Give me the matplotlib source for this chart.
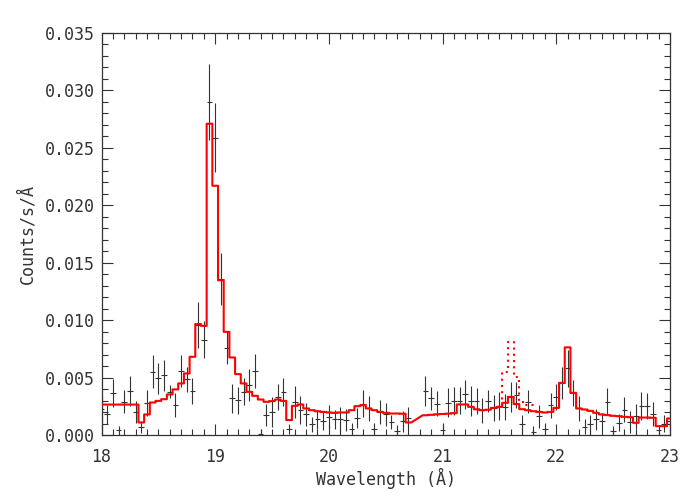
import numpy as np
import matplotlib.pyplot as plt
from matplotlib.ticker import MultipleLocator, FormatStrFormatter

# 0.05 A bins centred on 18.00 ... 23.00
wave = np.round(np.arange(18.0, 23.0001, 0.05), 3)
half_bin = 0.025
nan = np.nan

# observed rate and 1-sigma error, in 1e-3 counts/s/A (nan = chip gap)
rate = [2.3, 1.79, 3.62, 0.42, 2.89, 3.85, 1.99, 0.71, 2.8, 5.5,
        4.92, 5.21, 3.76, 2.6, 5.59, 4.86, 3.82, 9.6, 8.3, 29.0,
        25.9, 13.6, 7.6, 3.18, 3.03, 3.76, 4.34, 5.56, 0.13, 1.72,
        2.02, 3.32, 3.76, 0.5, 2.9, 2.16, 1.79, 0.94, 1.35, 1.23,
        1.58, 1.35, 1.35, 1.29, 0.56, 1.44, 2.74, 2.31, 0.56, 2.01,
        1.8, 1.15, 0.38, 1.2, 1.45, nan, nan, 3.8, 3.2, 2.74,
        0.4, 2.8, 2.95, 3.0, 3.53, 2.97, 2.97, 2.16, 2.95, 2.39,
        2.51, 2.45, 3.32, 3.47, 0.94, 2.89, 0.3, 1.64, 0.56, 2.6,
        3.32, 4.54, 5.8, 3.67, 2.31, 0.71, 0.94, 1.35, 1.2, 2.89,
        0.36, 1.06, 2.22, 1.15, 1.64, 2.51, 2.51, 1.81, 0.42, 1.0,
        1.2]
rate_err = [1.1, 0.8, 1.22, 0.39, 0.99, 1.3, 0.94, 0.51, 1.16, 1.45,
            1.33, 1.35, 0.58, 1.07, 1.39, 1.09, 1.12, 2.0, 1.6, 3.3,
            3.0, 2.25, 1.45, 1.23, 1.19, 1.16, 1.38, 1.45, 0.4, 0.94,
            1.28, 1.16, 1.2, 0.43, 1.38, 1.2, 1.0, 0.65, 0.87, 0.8,
            1.0, 0.87, 1.09, 0.94, 0.5, 0.87, 1.2, 1.09, 0.5, 1.02,
            1.0, 0.6, 0.45, 0.9, 1.0, nan, nan, 1.3, 1.02, 1.09,
            0.65, 1.26, 1.23, 1.2, 1.23, 1.3, 1.1, 1.1, 0.94, 1.13,
            1.2, 1.15, 1.3, 1.16, 0.8, 1.0, 0.5, 1.0, 0.5, 1.09,
            1.13, 1.41, 1.6, 1.16, 1.1, 0.65, 0.77, 0.95, 0.75, 1.16,
            0.4, 0.75, 1.06, 0.95, 1.09, 1.23, 1.16, 1.05, 0.45, 0.7,
            0.9]

# best-fit model, same bins
model = [2.65, 2.65, 2.65, 2.65, 2.65, 2.65, 2.65, 1.09, 1.79, 2.83,
         2.97, 3.12, 3.53, 3.97, 4.49, 5.36, 6.81, 9.66, 9.5, 27.1,
         21.7, 13.47, 8.98, 6.75, 5.3, 4.49, 3.76, 3.41, 3.09, 2.89,
         2.95, 3.09, 2.97, 1.3, 2.54, 2.66, 2.31, 2.16, 2.07, 2.01,
         1.96, 1.93, 1.96, 1.96, 2.16, 2.51, 2.6, 2.31, 2.16, 2.01,
         1.93, 1.87, 1.87, 1.85, 1.09, nan, nan, 1.72, 1.76, 1.8,
         1.83, 1.86, 1.9, 2.66, 2.66, 2.45, 2.24, 2.16, 2.2, 2.36,
         2.45, 2.8, 3.32, 2.69, 2.25, 2.16, 2.07, 2.01, 1.96, 2.01,
         2.36, 4.54, 7.63, 3.67, 2.31, 2.22, 2.1, 1.93, 1.79, 1.73,
         1.67, 1.64, 1.58, 1.55, 1.06, 1.52, 1.52, 1.5, 0.77, 0.77,
         1.44]

# model with the O VII resonance line, only where it departs from the fit
res_wave = [21.50, 21.55, 21.60, 21.65, 21.70, 21.75, 21.80]
res_model = [2.45, 5.5, 8.12, 5.01, 2.89, 2.6, 2.6]


def step_path(centres, values):
    xs, ys = [], []
    for c, v in zip(centres, values):
        if np.isnan(v):
            continue
        xs += [c - half_bin, c + half_bin]
        ys += [v * 1e-3, v * 1e-3]
    return xs, ys


plt.rcParams['font.family'] = ['DejaVu Sans Mono']
plt.rcParams['font.size'] = 12

fig = plt.figure(figsize=(7, 5), dpi=100)
ax = fig.add_axes([0.145, 0.13, 0.812, 0.804])

ink = '#333333'
ax.errorbar(wave, np.array(rate) * 1e-3, xerr=half_bin, yerr=np.array(rate_err) * 1e-3,
            fmt='none', ecolor=ink, elinewidth=0.8, capsize=0, zorder=2)

mx, my = step_path(wave, model)
ax.plot(mx, my, color='red', lw=1.5, zorder=3)
rx, ry = step_path(res_wave, res_model)
ax.plot(rx, ry, color='red', lw=1.5, ls=(0, (1, 2)), zorder=3)

ax.set_xlim(18, 23)
ax.set_ylim(0, 0.035)
ax.xaxis.set_major_locator(MultipleLocator(1))
ax.xaxis.set_minor_locator(MultipleLocator(0.1))
ax.yaxis.set_major_locator(MultipleLocator(0.005))
ax.yaxis.set_minor_locator(MultipleLocator(0.001))
ax.yaxis.set_major_formatter(FormatStrFormatter('%.3f'))
ax.tick_params(which='both', direction='in', top=True, right=True, color=ink, labelcolor=ink)
ax.tick_params(which='major', length=8, width=0.8)
ax.tick_params(which='minor', length=4, width=0.8)
ax.tick_params(axis='x', pad=9)
ax.tick_params(axis='y', pad=5)
for s in ax.spines.values():
    s.set_color(ink)
    s.set_linewidth(0.9)

ax.set_xlabel('Wavelength (Å)', color=ink, labelpad=2)
ax.set_ylabel('Counts/s/Å', color=ink, labelpad=6)

fig.savefig('out.png', dpi=100)
